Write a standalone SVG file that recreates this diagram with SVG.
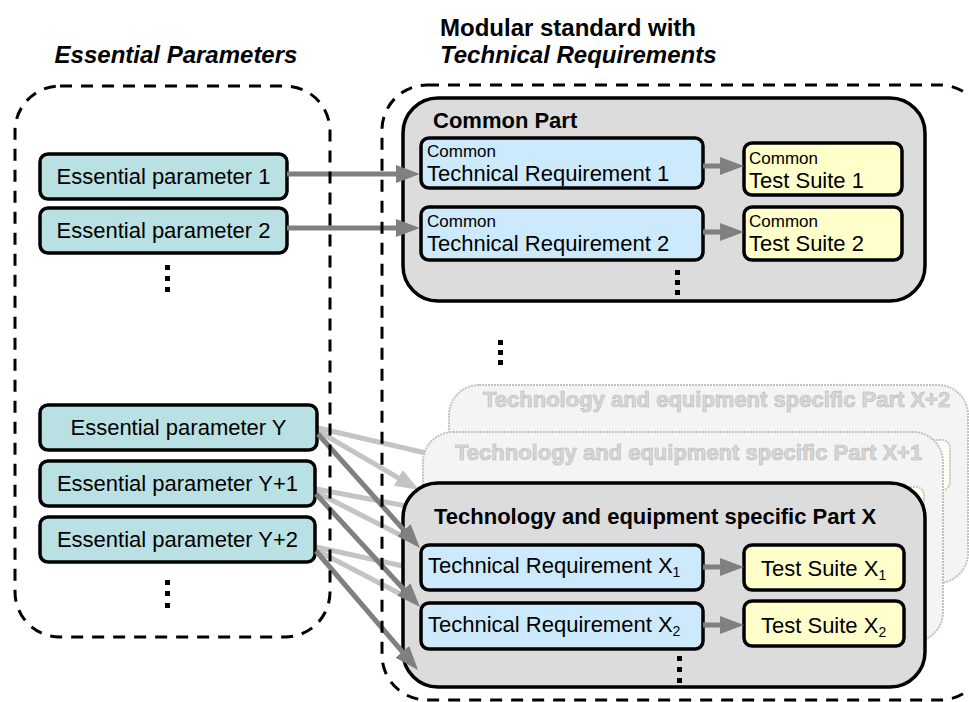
<svg xmlns="http://www.w3.org/2000/svg" width="969" height="702" viewBox="0 0 969 702">
<defs>
<style>
text{font-family:"Liberation Sans",Arial,sans-serif;fill:#000}
.title{font-size:24px;font-weight:bold}
.it{font-style:italic}
.frame{fill:none;stroke:#000;stroke-width:3;stroke-dasharray:12 9}
.ep{fill:#b9e0e3;stroke:#000;stroke-width:3.5}
.part{fill:#dcdcdc;stroke:#000;stroke-width:3.5}
.tr{fill:#cdeafc;stroke:#000;stroke-width:3.5}
.ts{fill:#ffffcc;stroke:#000;stroke-width:3.5}
.lbl{font-size:22px}
.mid{text-anchor:middle}
.small{font-size:17px}
.bold{font-weight:bold}
.ghost{fill:#f4f4f4;stroke:#c2c2c2;stroke-width:2;stroke-dasharray:2 1}
.ghostts{fill:#fffdf0;stroke:#c8c8c8;stroke-width:2;stroke-dasharray:2 1}
.ghosttext{font-size:22px;font-weight:bold;fill:#d8d8d8;stroke:#b8b8b8;stroke-width:0.6}
.dark{stroke:#808080;stroke-width:5;fill:none}
.light{stroke:#c4c4c4;stroke-width:5;fill:none}
.dot{fill:#000}
</style>
<marker id="ah" markerUnits="userSpaceOnUse" markerWidth="24" markerHeight="18" refX="8" refY="9" orient="auto" viewBox="0 0 24 18"><path d="M0,0 L24,9 L0,18 z" fill="#808080"/></marker>
<marker id="ahl" markerUnits="userSpaceOnUse" markerWidth="24" markerHeight="18" refX="8" refY="9" orient="auto" viewBox="0 0 24 18"><path d="M0,0 L24,9 L0,18 z" fill="#c4c4c4"/></marker>
</defs>

<g id="titles">
<text class="title it mid" x="176" y="63">Essential Parameters</text>
<text class="title" x="440" y="36">Modular standard with</text>
<text class="title it" x="440" y="63">Technical Requirements</text>
</g>

<g id="connectors-behind">
<line class="light" x1="318" y1="428" x2="430" y2="454"/>
<line class="light" x1="318" y1="431" x2="405.2" y2="481.9" marker-end="url(#ahl)"/>
<line class="light" x1="316" y1="489" x2="412" y2="507"/>
<line class="light" x1="316" y1="492" x2="412" y2="541"/>
<line class="light" x1="316" y1="547" x2="412" y2="568"/>
<line class="light" x1="316" y1="550" x2="412" y2="600"/>
</g>

<g id="part-x2">
<rect class="ghost" x="449" y="385" width="519" height="198" rx="30"/>
<rect class="ghostts" x="790" y="440" width="160" height="50" rx="8"/>
<text class="ghosttext" x="483" y="407">Technology and equipment specific Part X+2</text>
</g>

<g id="part-x1">
<rect class="ghost" x="423" y="432" width="520" height="210" rx="30"/>
<rect class="ghostts" x="764" y="487" width="160" height="50" rx="8"/>
<text class="ghosttext" x="455" y="460">Technology and equipment specific Part X+1</text>
</g>

<g id="common-part">
<rect class="part" x="403" y="98" width="522" height="203" rx="35"/>
<text class="lbl bold" x="433" y="128">Common Part</text>
</g>
<g id="tr1">
<rect class="tr" x="421" y="138" width="282" height="50" rx="8"/>
<text class="small" x="427" y="157">Common</text>
<text class="lbl" x="427" y="181">Technical Requirement 1</text>
</g>
<g id="ts1">
<rect class="ts" x="744" y="143" width="158" height="52" rx="8"/>
<text class="small" x="749" y="164">Common</text>
<text class="lbl" x="749" y="188">Test Suite 1</text>
</g>
<g id="tr2">
<rect class="tr" x="421" y="207" width="282" height="53" rx="8"/>
<text class="small" x="427" y="227">Common</text>
<text class="lbl" x="427" y="251">Technical Requirement 2</text>
</g>
<g id="ts2">
<rect class="ts" x="744" y="207" width="158" height="53" rx="8"/>
<text class="small" x="749" y="227">Common</text>
<text class="lbl" x="749" y="251">Test Suite 2</text>
</g>

<g id="part-x">
<rect class="part" x="403" y="483" width="522" height="204" rx="35"/>
<text class="lbl bold" x="434" y="524">Technology and equipment specific Part X</text>
</g>
<g id="trx1">
<rect class="tr" x="421" y="545" width="282" height="45" rx="8"/>
<text class="lbl" x="428" y="573">Technical Requirement X<tspan font-size="14" dy="4">1</tspan></text>
</g>
<g id="tsx1">
<rect class="ts" x="744" y="545" width="160" height="45" rx="8"/>
<text class="lbl" x="761" y="576">Test Suite X<tspan font-size="14" dy="4">1</tspan></text>
</g>
<g id="trx2">
<rect class="tr" x="421" y="603" width="282" height="46" rx="8"/>
<text class="lbl" x="428" y="632">Technical Requirement X<tspan font-size="14" dy="4">2</tspan></text>
</g>
<g id="tsx2">
<rect class="ts" x="744" y="601" width="160" height="45" rx="8"/>
<text class="lbl" x="761" y="633">Test Suite X<tspan font-size="14" dy="4">2</tspan></text>
</g>

<g id="ep1">
<rect class="ep" x="40" y="154" width="247" height="45" rx="8"/>
<text class="lbl mid" x="163.5" y="184">Essential parameter 1</text>
</g>
<g id="ep2">
<rect class="ep" x="40" y="208" width="247" height="45" rx="8"/>
<text class="lbl mid" x="163.5" y="238">Essential parameter 2</text>
</g>
<g id="epy">
<rect class="ep" x="40" y="405" width="277" height="45" rx="8"/>
<text class="lbl mid" x="178.5" y="435">Essential parameter Y</text>
</g>
<g id="epy1">
<rect class="ep" x="40" y="461" width="275" height="45" rx="8"/>
<text class="lbl mid" x="177.5" y="491">Essential parameter Y+1</text>
</g>
<g id="epy2">
<rect class="ep" x="40" y="517" width="275" height="45" rx="8"/>
<text class="lbl mid" x="177.5" y="547">Essential parameter Y+2</text>
</g>

<g id="ellipses">
<rect class="dot" x="165" y="265" width="5" height="5"/>
<rect class="dot" x="165" y="276" width="5" height="5"/>
<rect class="dot" x="165" y="287" width="5" height="5"/>
<rect class="dot" x="165" y="580" width="5" height="5"/>
<rect class="dot" x="165" y="591" width="5" height="5"/>
<rect class="dot" x="165" y="603" width="5" height="5"/>
<rect class="dot" x="498" y="340" width="5" height="5"/>
<rect class="dot" x="498" y="350" width="5" height="5"/>
<rect class="dot" x="498" y="360" width="5" height="5"/>
<rect class="dot" x="675" y="270" width="5" height="5"/>
<rect class="dot" x="675" y="280" width="5" height="5"/>
<rect class="dot" x="675" y="290" width="5" height="5"/>
<rect class="dot" x="677" y="656" width="5" height="5"/>
<rect class="dot" x="677" y="667" width="5" height="5"/>
<rect class="dot" x="677" y="678" width="5" height="5"/>
</g>

<g id="connectors">
<line class="dark" x1="287" y1="174" x2="404" y2="174" marker-end="url(#ah)"/>
<line class="dark" x1="287" y1="228" x2="404" y2="228" marker-end="url(#ah)"/>
<line class="dark" x1="703" y1="166" x2="728" y2="166" marker-end="url(#ah)"/>
<line class="dark" x1="703" y1="232" x2="728" y2="232" marker-end="url(#ah)"/>
<line class="dark" x1="703" y1="567" x2="728" y2="567" marker-end="url(#ah)"/>
<line class="dark" x1="703" y1="625" x2="728" y2="625" marker-end="url(#ah)"/>
<line class="dark" x1="318" y1="434" x2="409.3" y2="536.1" marker-end="url(#ah)"/>
<line class="dark" x1="316" y1="494" x2="409.2" y2="595.2" marker-end="url(#ah)"/>
<line class="dark" x1="316" y1="551" x2="407.6" y2="657.9" marker-end="url(#ah)"/>
</g>

<g id="frames">
<rect class="frame" x="15" y="86" width="315" height="551" rx="45"/>
<rect class="frame" x="382" y="85" width="603" height="615" rx="45"/>
</g>
</svg>
